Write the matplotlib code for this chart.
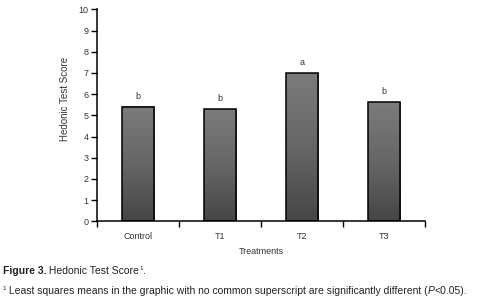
import matplotlib
matplotlib.use("Agg")
import matplotlib.pyplot as plt
import numpy as np

# data
treatments = ['Control', 'T1', 'T2', 'T3']
scores = [5.38, 5.28, 6.98, 5.61]
letters = ['b', 'b', 'a', 'b']

plt.rcParams['font.family'] = ['Liberation Sans', 'DejaVu Sans']
txt = '#333333'

fig = plt.figure(figsize=(4.79, 3.02), dpi=100)
ax = fig.add_axes([97 / 479, 1 - 221.3 / 302, 328 / 479, 212 / 302])

x = np.arange(len(treatments))
bars = ax.bar(x, scores, width=0.4, color='none', edgecolor='black', lw=1.1, zorder=3)

# grey gradient fill, lighter at the top
grad = np.linspace(0, 1, 100).reshape(-1, 1)
cmap = matplotlib.colors.LinearSegmentedColormap.from_list('g', ['#464646', '#666666', '#7b7b7b'])
for b in bars:
    x0, w, h = b.get_x(), b.get_width(), b.get_height()
    ax.imshow(grad, cmap=cmap, origin='lower', aspect='auto',
              extent=[x0, x0 + w, 0, h], zorder=2)

for xi, s, l in zip(x, scores, letters):
    ax.text(xi, s + 0.3, l, ha='center', va='bottom', fontsize=6.5, color=txt)

ax.set_xlim(-0.5, len(treatments) - 0.5)
ax.set_ylim(0, 10)
ax.set_yticks(range(0, 11))
ax.set_xticks(np.arange(-0.5, len(treatments), 1))
ax.set_xticklabels([])
ax.set_xticks(x, minor=True)
ax.set_xticklabels(treatments, minor=True)
ax.tick_params(axis='x', which='minor', length=0, labelsize=6.5, labelcolor=txt, pad=8)
ax.tick_params(axis='x', which='major', length=4, width=1, direction='out')
ax.tick_params(axis='y', length=4, width=1, labelsize=6.5, labelcolor=txt, pad=2)
for s in ['top', 'right']:
    ax.spines[s].set_visible(False)
for s in ['left', 'bottom']:
    ax.spines[s].set_linewidth(1.1)

ax.set_ylabel('Hedonic Test Score', fontsize=7, color=txt)
ax.yaxis.set_label_coords(-0.082, 0.577)
ax.set_xlabel('Treatments', fontsize=6.5, color=txt, labelpad=4)


def write(pieces, x0, y0):
    r = fig.canvas.get_renderer()
    W, H = fig.get_figwidth() * fig.dpi, fig.get_figheight() * fig.dpi
    xp = x0
    for s, kw, dy in pieces:
        t = fig.text(xp, y0 + dy / H, s, va='baseline', ha='left', **kw)
        bb = t.get_window_extent(renderer=r)
        xp = bb.x1 / W


c = '#222222'
write([('Figure 3.', dict(fontsize=7.5, weight='bold', color=c), 0),
       (' Hedonic Test Score', dict(fontsize=7.5, color=c), 0),
       ('1', dict(fontsize=4.5, color=c), 4),
       ('.', dict(fontsize=7.5, color=c), 0)],
      0.006, 1 - 274 / 302)
write([('1', dict(fontsize=4.5, color=c), 4),
       (' Least squares means in the graphic with no common superscript are significantly different (',
        dict(fontsize=7.5, color=c), 0),
       ('P', dict(fontsize=7.5, style='italic', color=c), 0),
       ('<0.05).', dict(fontsize=7.5, color=c), 0)],
      0.006, 1 - 294 / 302)

fig.savefig('out.png', dpi=100)
